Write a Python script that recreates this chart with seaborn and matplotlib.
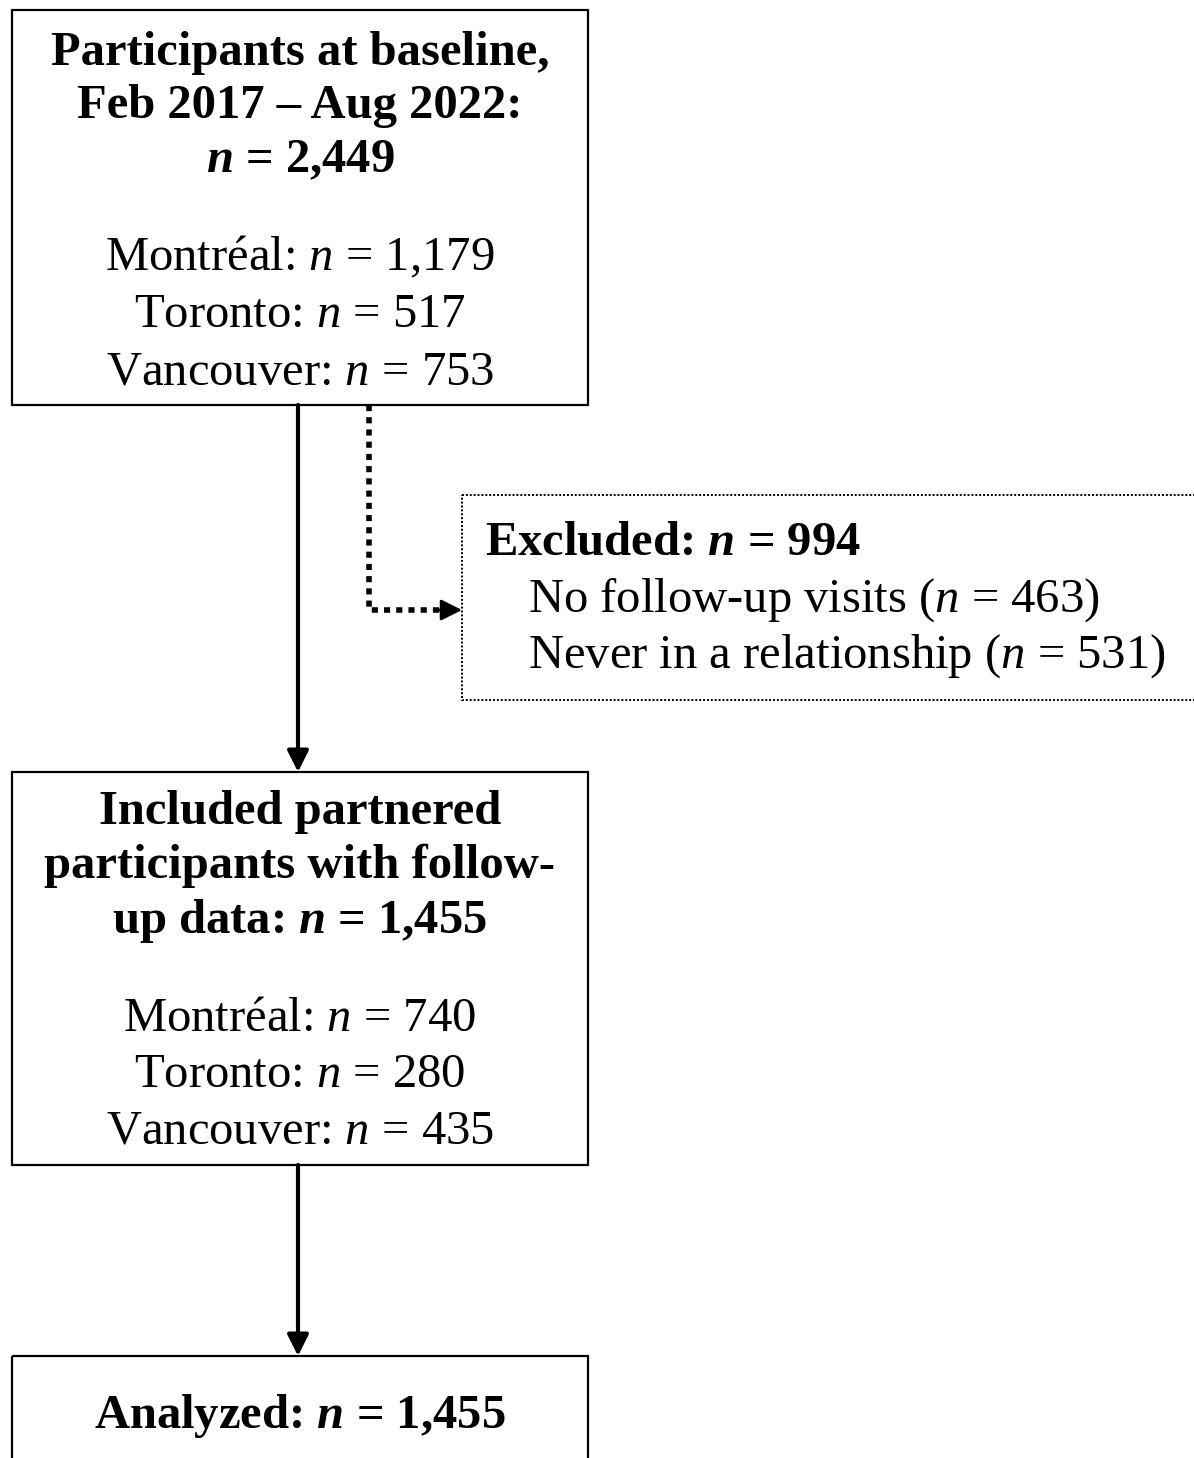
import matplotlib.pyplot as plt
import seaborn as sns
from matplotlib.patches import Rectangle

# flowchart content
sites = ["Montréal", "Toronto", "Vancouver"]
baseline_total = "2,449"
baseline_period = "Feb 2017 – Aug 2022"
baseline_n = ["1,179", "517", "753"]
excluded_total = "994"
excluded_reasons = ["No follow-up visits", "Never in a relationship"]
excluded_n = ["463", "531"]
included_total = "1,455"
included_n = ["740", "280", "435"]
analyzed_total = "1,455"

sns.set_theme(style="white")
plt.rcParams["font.family"] = ["Liberation Serif", "DejaVu Serif"]
plt.rcParams["mathtext.fontset"] = "custom"
plt.rcParams["mathtext.rm"] = "Liberation Serif"
plt.rcParams["mathtext.it"] = "Liberation Serif:italic"
plt.rcParams["mathtext.bf"] = "Liberation Serif:bold"
plt.rcParams["mathtext.bfit"] = "Liberation Serif:bold:italic"

FS = 35
N = r"$n$"
NB = r"$\mathbfit{n}$"

fig = plt.figure(figsize=(11.94, 14.58), dpi=100)
ax = fig.add_axes([0, 0, 1, 1])
ax.set_xlim(0, 1194)
ax.set_ylim(1458, 0)
ax.axis("off")


def box(x0, y0, x1, y1, **kw):
    ax.add_patch(Rectangle((x0, y0), x1 - x0, y1 - y0, fill=False, **kw))


def line(x, y, s, bold=False, ha="center"):
    ax.text(x, y, s, fontsize=FS, ha=ha, va="baseline",
            fontweight="bold" if bold else "normal", color="black")


solid = dict(edgecolor="black", linewidth=1.6)
box(12, 10, 588, 405, **solid)
box(12, 772, 588, 1165, **solid)
box(12, 1356, 588, 1480, **solid)
box(462, 495, 1200, 700, edgecolor="black", linewidth=1.4, linestyle=(0, (1, 1)))

cx = 300
line(cx, 65, "Participants at baseline,", bold=True)
line(cx, 118, baseline_period + ":", bold=True)
line(cx, 172, NB + " = " + baseline_total, bold=True)
for i, (s, v) in enumerate(zip(sites, baseline_n)):
    line(cx, 270 + 57 * i, f"{s}: {N} = {v}")

line(485, 555, "Excluded: " + NB + " = " + excluded_total, bold=True, ha="left")
for i, (s, v) in enumerate(zip(excluded_reasons, excluded_n)):
    line(528, 612 + 56 * i, f"{s} ({N} = {v})", ha="left")

line(cx, 824, "Included partnered", bold=True)
line(cx, 878, "participants with follow-", bold=True)
line(cx, 933, "up data: " + NB + " = " + included_total, bold=True)
for i, (s, v) in enumerate(zip(sites, included_n)):
    line(cx, 1031 + 56 * i, f"{s}: {N} = {v}")

line(cx, 1428, "Analyzed: " + NB + " = " + analyzed_total, bold=True)

arrow = dict(arrowstyle="-|>", color="black", lw=3, mutation_scale=32,
             shrinkA=0, shrinkB=0)
ax.annotate("", xy=(298, 772), xytext=(298, 405), arrowprops=arrow)
ax.annotate("", xy=(298, 1356), xytext=(298, 1165), arrowprops=arrow)

ax.plot([369, 369, 442], [405, 610, 610], color="black", lw=4,
        linestyle=(0, (1.1, 1.1)), solid_capstyle="butt")
ax.annotate("", xy=(462, 610), xytext=(436, 610),
            arrowprops=dict(arrowstyle="-|>", color="black", lw=2,
                            mutation_scale=32, shrinkA=0, shrinkB=0))

fig.savefig("out.png", dpi=100)
